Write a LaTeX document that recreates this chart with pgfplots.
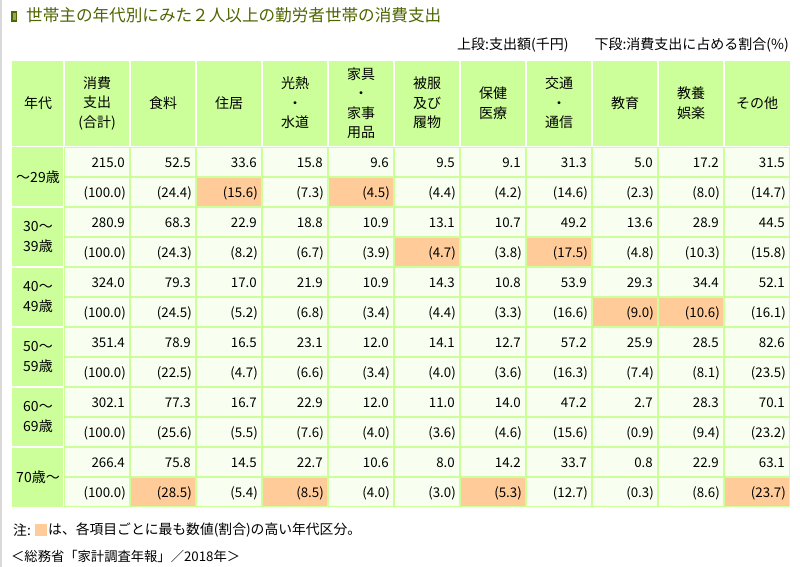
\documentclass[border=0pt]{standalone}
\usepackage{pgfplots}
\pgfplotsset{compat=1.18}
\usepackage{pgfplotstable}
\usepackage{fontspec}
\setmainfont{Noto Sans CJK JP}
\definecolor{hdr}{HTML}{CCFF99}
\definecolor{cellbg}{HTML}{F8FFF0}
\definecolor{gridg}{HTML}{CCFF99}
\definecolor{hl}{HTML}{FFCC99}
\definecolor{ttl}{HTML}{4D6600}
\definecolor{frame}{HTML}{DADADA}

% row = age group (0: ~29, 1: 30-39, ..., 5: 70~), col = item (0: total ... 10: other)
\pgfplotstableread{
row col amt pct
0 0 215.0 100.0
0 1 52.5 24.4
0 2 33.6 15.6
0 3 15.8 7.3
0 4 9.6 4.5
0 5 9.5 4.4
0 6 9.1 4.2
0 7 31.3 14.6
0 8 5.0 2.3
0 9 17.2 8.0
0 10 31.5 14.7
1 0 280.9 100.0
1 1 68.3 24.3
1 2 22.9 8.2
1 3 18.8 6.7
1 4 10.9 3.9
1 5 13.1 4.7
1 6 10.7 3.8
1 7 49.2 17.5
1 8 13.6 4.8
1 9 28.9 10.3
1 10 44.5 15.8
2 0 324.0 100.0
2 1 79.3 24.5
2 2 17.0 5.2
2 3 21.9 6.8
2 4 10.9 3.4
2 5 14.3 4.4
2 6 10.8 3.3
2 7 53.9 16.6
2 8 29.3 9.0
2 9 34.4 10.6
2 10 52.1 16.1
3 0 351.4 100.0
3 1 78.9 22.5
3 2 16.5 4.7
3 3 23.1 6.6
3 4 12.0 3.4
3 5 14.1 4.0
3 6 12.7 3.6
3 7 57.2 16.3
3 8 25.9 7.4
3 9 28.5 8.1
3 10 82.6 23.5
4 0 302.1 100.0
4 1 77.3 25.6
4 2 16.7 5.5
4 3 22.9 7.6
4 4 12.0 4.0
4 5 11.0 3.6
4 6 14.0 4.6
4 7 47.2 15.6
4 8 2.7 0.9
4 9 28.3 9.4
4 10 70.1 23.2
5 0 266.4 100.0
5 1 75.8 28.5
5 2 14.5 5.4
5 3 22.7 8.5
5 4 10.6 4.0
5 5 8.0 3.0
5 6 14.2 5.3
5 7 33.7 12.7
5 8 0.8 0.3
5 9 22.9 8.6
5 10 63.1 23.7
}\spend

\begin{document}
\begin{tikzpicture}
\begin{axis}[scale only axis, width=800pt, height=567pt,
  xmin=0, xmax=800, ymin=0, ymax=567, y dir=reverse,
  hide axis, clip=false,
  /pgf/number format/assume math mode=true,
  font=\fontsize{14}{19.5}\selectfont]
\path (rel axis cs:0,0) rectangle (rel axis cs:1,1);
% left frame line
\fill[frame] (0,0) rectangle (1.5,567);
% title
\fill[ttl] (11,11) rectangle (17,22);
\fill[ttl!60!white] (12.5,13) rectangle (15.5,20);
\node[anchor=west, inner sep=0pt, text=ttl, font=\fontsize{16.6}{18}\selectfont] at (26,15) {世帯主の年代別にみた２人以上の勤労者世帯の消費支出};
\node[anchor=east, inner sep=0pt] at (789,45) {上段:支出額(千円)\hspace{26pt}下段:消費支出に占める割合(\%)};
% header band
\fill[hdr] (12,61) rectangle (790,145.5);
\draw[white, line width=2pt] (64,61) -- (64,146);
\pgfplotsinvokeforeach{0,...,9}{\draw[white, line width=2pt] ({130+66*#1},61) -- ({130+66*#1},146);}
% age column
\fill[hdr] (12,147) rectangle (63,507);
\pgfplotsinvokeforeach{1,...,5}{\draw[white, line width=2pt] (12,{147+60*#1}) -- (64,{147+60*#1});}
% data area
\fill[gridg] (64,147) rectangle (790,507);
\fill[cellbg] (65,148) rectangle (789,506);
% highlighted cells (highest share per item)
\fill[hl] (196,177) rectangle (262,207);
\fill[hl] (328,177) rectangle (394,207);
\fill[hl] (394,237) rectangle (460,267);
\fill[hl] (526,237) rectangle (592,267);
\fill[hl] (592,297) rectangle (658,327);
\fill[hl] (658,297) rectangle (724,327);
\fill[hl] (130,477) rectangle (196,507);
\fill[hl] (262,477) rectangle (328,507);
\fill[hl] (460,477) rectangle (526,507);
\fill[hl] (724,477) rectangle (790,507);
% grid lines
\pgfplotsinvokeforeach{0,...,9}{\draw[gridg, line width=2pt] ({130+66*#1},147) -- ({130+66*#1},507);}
\pgfplotsinvokeforeach{1,...,11}{\draw[gridg, line width=2pt] (64,{147+30*#1}) -- (790,{147+30*#1});}
\draw[gridg, line width=1pt] (64.5,147.5) rectangle (789.5,506.5);
% header texts
\node[align=center] at (38,103) {年代};
\node[align=center] at (97,103) {消費\\支出\\(合計)};
\node[align=center] at (163,103) {食料};
\node[align=center] at (229,103) {住居};
\node[align=center] at (295,103) {光熱\\・\\水道};
\node[align=center] at (361,103) {家具\\・\\家事\\用品};
\node[align=center] at (427,103) {被服\\及び\\履物};
\node[align=center] at (493,103) {保健\\医療};
\node[align=center] at (559,103) {交通\\・\\通信};
\node[align=center] at (625,103) {教育};
\node[align=center] at (691,103) {教養\\娯楽};
\node[align=center] at (757,103) {その他};
% age labels
\node[align=left] at (38,177) {～29歳};
\node[align=left] at (38,237) {30～\\39歳};
\node[align=left] at (38,297) {40～\\49歳};
\node[align=left] at (38,357) {50～\\59歳};
\node[align=left] at (38,417) {60～\\69歳};
\node[align=left] at (38,477) {70歳～};
% values
\addplot[draw=none, mark=none, point meta=explicit,
  nodes near coords={\pgfmathprintnumber[fixed,fixed zerofill,precision=1]{\pgfplotspointmeta}},
  every node near coord/.append style={anchor=base east, inner sep=0pt, font=\fontsize{13.3}{15}\selectfont}]
  table[x expr={125+66*\thisrow{col}}, y expr={167+60*\thisrow{row}}, meta=amt] {\spend};
\addplot[draw=none, mark=none, point meta=explicit,
  nodes near coords={(\pgfmathprintnumber[fixed,fixed zerofill,precision=1]{\pgfplotspointmeta})},
  every node near coord/.append style={anchor=base east, inner sep=0pt, font=\fontsize{13.3}{15}\selectfont}]
  table[x expr={126+66*\thisrow{col}}, y expr={197+60*\thisrow{row}}, meta=pct] {\spend};
% notes
\node[anchor=west, inner sep=0pt, font=\fontsize{13.8}{16}\selectfont] at (13,530) {注:};
\fill[hl] (35,524) rectangle (47,536);
\node[anchor=west, inner sep=0pt, font=\fontsize{13.8}{16}\selectfont] at (48,530) {は、各項目ごとに最も数値(割合)の高い年代区分。};
\node[anchor=west, inner sep=0pt, font=\fontsize{13.3}{16}\selectfont] at (11,556) {＜総務省「家計調査年報」／2018年＞};
\end{axis}
\end{tikzpicture}
\end{document}
